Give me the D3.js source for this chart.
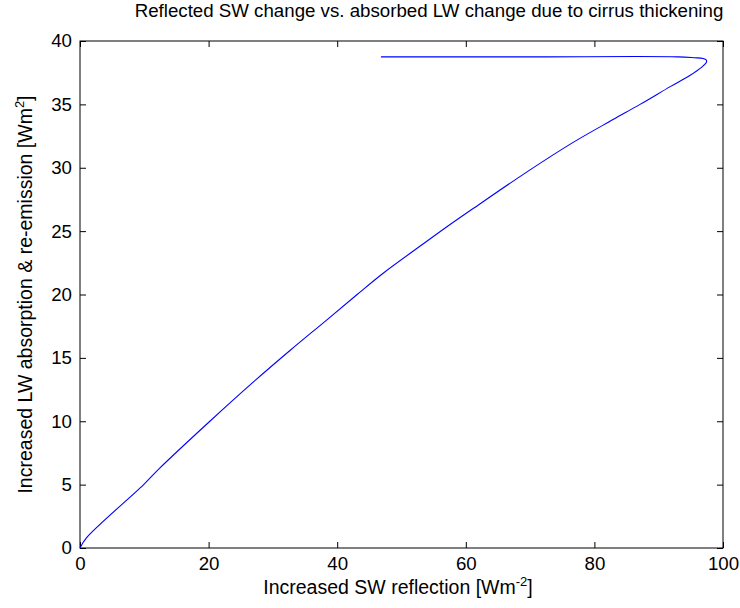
<!DOCTYPE html>
<html>
<head>
<meta charset="utf-8">
<script src="https://cdn.jsdelivr.net/npm/d3@7"></script>
<style>
body { margin: 0; background: #fff; }
text { font-family: "Liberation Sans", Arial, sans-serif; fill: #000; }
</style>
</head>
<body>
<script>
// Reflected SW vs absorbed LW -- curve
var swValues = [0, 1.0, 9.9, 12.4, 20.2, 27.2, 32.7, 38.4, 43.1, 47.2, 53.4, 57.5, 61.2, 69.0, 76.7, 82.9, 87.1, 91.8, 94.9, 96.6, 97.4, 97.4, 96.9, 95.5, 93.0, 70.0, 46.8];
var lwValues = [0, 0.8, 5.0, 6.3, 10.0, 13.2, 15.6, 18.0, 20.0, 21.7, 24.0, 25.5, 26.8, 29.5, 32.0, 33.8, 35.0, 36.4, 37.3, 37.9, 38.3, 38.5, 38.62, 38.68, 38.75, 38.75, 38.75];

var xTicks = [0, 20, 40, 60, 80, 100];
var yTicks = [0, 5, 10, 15, 20, 25, 30, 35, 40];

var WIDTH = 740;
var HEIGHT = 608;
var margin = {top: 41, right: 17, bottom: 60, left: 80};
var w = WIDTH - margin.left - margin.right;
var h = HEIGHT - margin.top - margin.bottom;
var FS = '18.7px';

var svg = d3.select('body')
.append('svg')
.attr('width', WIDTH)
.attr('height', HEIGHT);

var g = svg.append('g')
.attr('transform', 'translate(' + margin.left + ',' + margin.top + ')');

var x = d3.scaleLinear().domain([0, 100]).range([0, w]);
var y = d3.scaleLinear().domain([0, 40]).range([h, 0]);

// axes, ticks pointing inward like matlab
function styleAxis(sel) {
  sel.select('.domain').remove();
  sel.selectAll('line').attr('stroke', '#000');
  sel.selectAll('text').style('font-size', FS);
}

g.append('g')
.attr('transform', 'translate(0,' + h + ')')
.call(d3.axisBottom(x).tickValues(xTicks).tickSizeInner(-6).tickPadding(9))
.call(styleAxis);

g.append('g')
.call(d3.axisTop(x).tickValues(xTicks).tickSizeInner(-6).tickFormat(''))
.call(styleAxis);

g.append('g')
.call(d3.axisLeft(y).tickValues(yTicks).tickSizeInner(-6).tickPadding(8))
.call(styleAxis);

g.append('g')
.attr('transform', 'translate(' + w + ',0)')
.call(d3.axisRight(y).tickValues(yTicks).tickSizeInner(-6).tickFormat(''))
.call(styleAxis);

g.append('rect')
.attr('width', w)
.attr('height', h)
.attr('fill', 'none')
.attr('stroke', '#000')
.attr('stroke-width', 1);

var line = d3.line()
.curve(d3.curveCatmullRom)
.x(function(d, i){return x(swValues[i]);})
.y(function(d, i){return y(lwValues[i]);});

g.append('path')
.datum(swValues)
.attr('d', line)
.attr('fill', 'none')
.attr('stroke', '#0000ff')
.attr('stroke-width', 1.1);

// title and labels
svg.append('text')
.attr('x', 429)
.attr('y', 17)
.attr('text-anchor', 'middle')
.style('font-size', FS)
.text('Reflected SW change vs. absorbed LW change due to cirrus thickening');

var xl = svg.append('text')
.attr('x', 398)
.attr('y', 594)
.attr('text-anchor', 'middle')
.style('font-size', '19.5px');
xl.append('tspan').text('Increased SW reflection [Wm');
xl.append('tspan').attr('dy', -8).style('font-size', '13px').text('-2');
xl.append('tspan').attr('dy', 8).text(']');

var yl = svg.append('text')
.attr('transform', 'translate(32,' + (margin.top + h / 2) + ') rotate(-90)')
.attr('text-anchor', 'middle')
.style('font-size', '19.5px');
yl.append('tspan').text('Increased LW absorption & re-emission [Wm');
yl.append('tspan').attr('dy', -8).style('font-size', '13px').text('2');
yl.append('tspan').attr('dy', 8).text(']');
</script>
</body>
</html>
